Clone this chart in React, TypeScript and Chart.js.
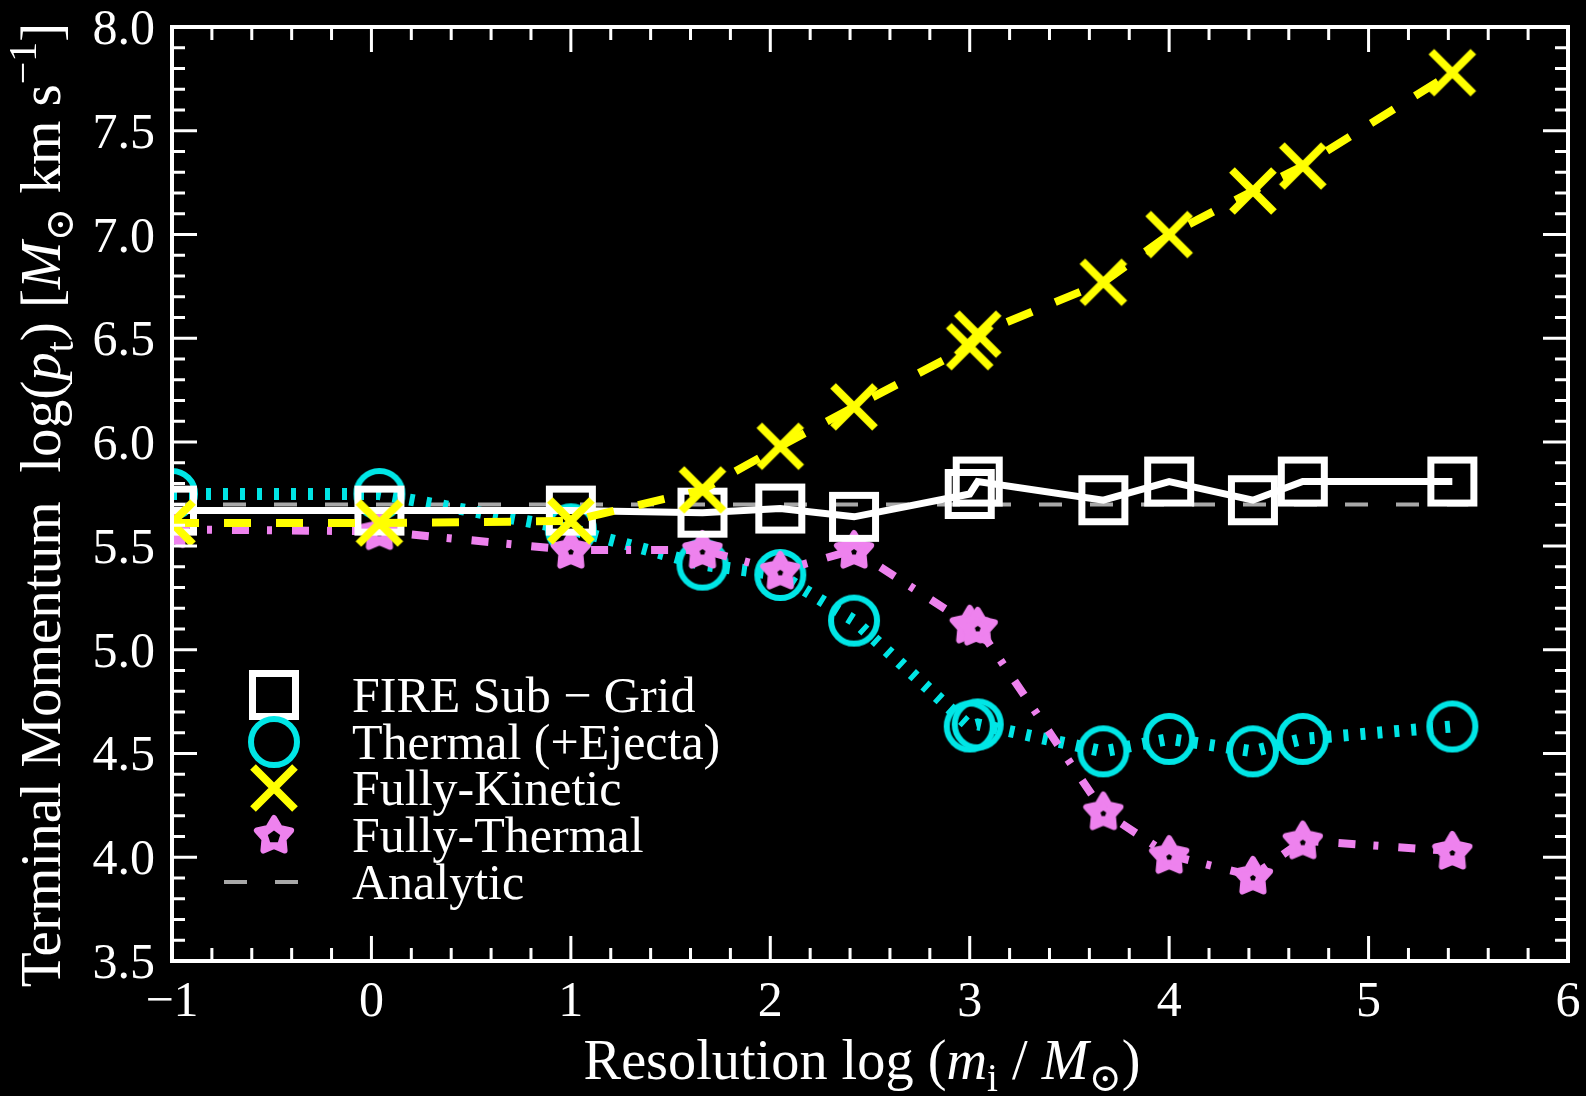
import React, { useEffect, useRef } from 'react';
import { Chart, registerables } from 'chart.js';

Chart.register(...registerables);

// ---------------- data ----------------
const resolutionLog = [-1, 0.04, 1, 1.66, 2.05, 2.42, 3.0, 3.04, 3.67, 4.0, 4.42, 4.67, 5.42];
const fireSubGrid = [5.67, 5.67, 5.67, 5.66, 5.68, 5.64, 5.75, 5.81, 5.72, 5.81, 5.72, 5.81, 5.81];
const thermalEjecta = [5.75, 5.75, 5.58, 5.41, 5.36, 5.14, 4.63, 4.64, 4.51, 4.57, 4.51, 4.57, 4.63];
const fullyKinetic = [5.61, 5.61, 5.62, 5.77, 5.98, 6.17, 6.46, 6.52, 6.77, 7.0, 7.21, 7.33, 7.78];
const fullyThermal = [5.58, 5.57, 5.48, 5.48, 5.38, 5.48, 5.12, 5.11, 4.22, 4.01, 3.91, 4.08, 4.03];
const analyticX = [-1, 5.5];
const analyticY = [5.7, 5.7];

const xTickValues = [-1, 0, 1, 2, 3, 4, 5, 6];
const yTickValues = [3.5, 4.0, 4.5, 5.0, 5.5, 6.0, 6.5, 7.0, 7.5, 8.0];
const xTickLabels = ['\u22121', '0', '1', '2', '3', '4', '5', '6'];
const yTickLabels = ['3.5', '4.0', '4.5', '5.0', '5.5', '6.0', '6.5', '7.0', '7.5', '8.0'];
const xMinorStep = 0.2;
const yMinorStep = 0.1;

const legendLabels = ['FIRE Sub \u2212 Grid', 'Thermal (+Ejecta)', 'Fully-Kinetic', 'Fully-Thermal', 'Analytic'];

// ---------------- styles ----------------
const FONT = '"Liberation Serif", "DejaVu Serif", "Times New Roman", serif';
const WHITE = '#ffffff';
const CYAN = '#00e6e6';
const YELLOW = '#ffff00';
const VIOLET = '#ee82ee';
const GREY = '#a8a8a8';

type Seg = { t: string; italic?: boolean; scale?: number; dy?: number };

function segFont(base: number, s: Seg) {
  return `${s.italic ? 'italic ' : ''}${(base * (s.scale ?? 1)).toFixed(1)}px ${FONT}`;
}
function measureRich(ctx: CanvasRenderingContext2D, segs: Seg[], base: number) {
  let w = 0;
  for (const s of segs) {
    ctx.font = segFont(base, s);
    w += ctx.measureText(s.t).width;
  }
  return w;
}
function drawRich(ctx: CanvasRenderingContext2D, segs: Seg[], base: number, x: number, y: number) {
  let cx = x;
  ctx.textBaseline = 'alphabetic';
  ctx.textAlign = 'left';
  for (const s of segs) {
    ctx.font = segFont(base, s);
    ctx.fillText(s.t, cx, y + (s.dy ?? 0) * base);
    cx += ctx.measureText(s.t).width;
  }
}
function fitSize(ctx: CanvasRenderingContext2D, segs: Seg[], target: number) {
  const w = measureRich(ctx, segs, 50);
  return (50 * target) / w;
}

const yTitle: Seg[] = [
  { t: 'Terminal Momentum  log' },
  { t: '(' },
  { t: 'p', italic: true },
  { t: 't', scale: 0.7, dy: 0.22 },
  { t: ') [' },
  { t: 'M', italic: true },
  { t: '\u2299', scale: 0.7, dy: 0.22 },
  { t: ' km s' },
  { t: '\u22121', scale: 0.7, dy: -0.42 },
  { t: ']' },
];
const xTitle: Seg[] = [
  { t: 'Resolution log ' },
  { t: '(' },
  { t: 'm', italic: true },
  { t: 'i', scale: 0.7, dy: 0.22 },
  { t: ' / ' },
  { t: 'M', italic: true },
  { t: '\u2299', scale: 0.7, dy: 0.22 },
  { t: ')' },
];

function makeCanvas(size: number, draw: (ctx: CanvasRenderingContext2D, c: number) => void) {
  const cv = document.createElement('canvas');
  cv.width = size;
  cv.height = size;
  const ctx = cv.getContext('2d')!;
  draw(ctx, size / 2);
  return cv;
}

function makeMarkers(starHole: number) {
  const square = makeCanvas(56, (ctx, c) => {
    ctx.strokeStyle = WHITE;
    ctx.lineWidth = 7;
    ctx.strokeRect(c - 21.5, c - 21.5, 43, 43);
  });
  const circle = makeCanvas(60, (ctx, c) => {
    ctx.strokeStyle = CYAN;
    ctx.lineWidth = 6;
    ctx.beginPath();
    ctx.arc(c, c, 23, 0, Math.PI * 2);
    ctx.stroke();
  });
  const cross = makeCanvas(60, (ctx, c) => {
    ctx.strokeStyle = YELLOW;
    ctx.lineWidth = 8;
    ctx.beginPath();
    ctx.moveTo(c - 21, c - 21);
    ctx.lineTo(c + 21, c + 21);
    ctx.moveTo(c + 21, c - 21);
    ctx.lineTo(c - 21, c + 21);
    ctx.stroke();
  });
  const star = makeCanvas(56, (ctx, c) => {
    ctx.fillStyle = VIOLET;
    ctx.strokeStyle = VIOLET;
    ctx.lineWidth = 6;
    ctx.lineJoin = 'round';
    ctx.beginPath();
    for (let i = 0; i < 10; i++) {
      const a = -Math.PI / 2 + (i * Math.PI) / 5;
      const r = i % 2 === 0 ? 18 : 10;
      const px = c + r * Math.cos(a);
      const py = c + 1 + r * Math.sin(a);
      if (i === 0) ctx.moveTo(px, py);
      else ctx.lineTo(px, py);
    }
    ctx.closePath();
    ctx.fill();
    ctx.stroke();
    ctx.fillStyle = '#000';
    ctx.beginPath();
    for (let i = 0; i < 5; i++) {
      const a = -Math.PI / 2 + (i * 2 * Math.PI) / 5;
      const px = c + starHole * Math.cos(a);
      const py = c + 2 + starHole * Math.sin(a);
      if (i === 0) ctx.moveTo(px, py);
      else ctx.lineTo(px, py);
    }
    ctx.closePath();
    ctx.fill();
  });
  return { square, circle, cross, star };
}

function range(min: number, max: number, step: number) {
  const out: number[] = [];
  const n = Math.round((max - min) / step);
  for (let i = 0; i <= n; i++) out.push(+(min + i * step).toFixed(6));
  return out;
}

export default function App() {
  const ref = useRef<HTMLCanvasElement | null>(null);

  useEffect(() => {
    const canvas = ref.current;
    if (!canvas) return;
    const m = makeMarkers(3);
    const lm = makeMarkers(6.5);

    const toPts = (ys: number[]) => resolutionLog.map((x, i) => ({ x, y: ys[i] }));

    const framePlugin = {
      id: 'frame',
      beforeDraw(chart: any) {
        const ctx = chart.ctx as CanvasRenderingContext2D;
        ctx.save();
        ctx.fillStyle = '#000';
        ctx.fillRect(0, 0, chart.width, chart.height);
        ctx.restore();
      },
      afterDraw(chart: any) {
        const ctx = chart.ctx as CanvasRenderingContext2D;
        const { left, right, top, bottom } = chart.chartArea;
        const xs = chart.scales.x;
        const ys = chart.scales.y;
        ctx.save();
        ctx.strokeStyle = WHITE;
        // ticks
        ctx.lineWidth = 3;
        const xMin = range(xTickValues[0], xTickValues[xTickValues.length - 1], xMinorStep);
        for (const v of xMin) {
          const major = xTickValues.some((t) => Math.abs(t - v) < 1e-6);
          const len = major ? 25 : 13;
          const px = xs.getPixelForValue(v);
          ctx.beginPath();
          ctx.moveTo(px, bottom);
          ctx.lineTo(px, bottom - len);
          ctx.moveTo(px, top);
          ctx.lineTo(px, top + len);
          ctx.stroke();
        }
        const yMin = range(yTickValues[0], yTickValues[yTickValues.length - 1], yMinorStep);
        for (const v of yMin) {
          const major = yTickValues.some((t) => Math.abs(t - v) < 1e-6);
          const len = major ? 25 : 13;
          const py = ys.getPixelForValue(v);
          ctx.beginPath();
          ctx.moveTo(left, py);
          ctx.lineTo(left + len, py);
          ctx.moveTo(right, py);
          ctx.lineTo(right - len, py);
          ctx.stroke();
        }
        // frame
        ctx.lineWidth = 4;
        ctx.strokeRect(left, top, right - left, bottom - top);

        // tick labels
        ctx.fillStyle = WHITE;
        ctx.font = `50px ${FONT}`;
        ctx.textBaseline = 'alphabetic';
        ctx.textAlign = 'center';
        xTickValues.forEach((v, i) => {
          ctx.fillText(xTickLabels[i], xs.getPixelForValue(v), 1016);
        });
        ctx.textAlign = 'right';
        yTickValues.forEach((v, i) => {
          ctx.fillText(yTickLabels[i], left - 17, ys.getPixelForValue(v) + 17);
        });

        // legend
        const rows = [695, 742, 788, 835, 882];
        const mx = 274;
        const imgs = [lm.square, lm.circle, lm.cross, lm.star];
        imgs.forEach((img, i) => {
          ctx.drawImage(img, mx - img.width / 2, rows[i] - img.height / 2);
        });
        ctx.strokeStyle = GREY;
        ctx.lineWidth = 4;
        ctx.beginPath();
        ctx.moveTo(224, rows[4]);
        ctx.lineTo(247, rows[4]);
        ctx.moveTo(275, rows[4]);
        ctx.lineTo(298, rows[4]);
        ctx.stroke();
        ctx.fillStyle = WHITE;
        ctx.font = `50px ${FONT}`;
        ctx.textAlign = 'left';
        ctx.textBaseline = 'alphabetic';
        legendLabels.forEach((lab, i) => {
          ctx.fillText(lab, 352, rows[i] + 17);
        });

        // axis titles
        const xs2 = fitSize(ctx, xTitle, 557);
        const xw = measureRich(ctx, xTitle, xs2);
        drawRich(ctx, xTitle, xs2, 862 - xw / 2, 1079);

        const ys2 = fitSize(ctx, yTitle, 964);
        const yw = measureRich(ctx, yTitle, ys2);
        ctx.translate(60, 505);
        ctx.rotate(-Math.PI / 2);
        drawRich(ctx, yTitle, ys2, -yw / 2, 0);
        ctx.restore();
      },
    };

    const chart = new Chart(canvas, {
      type: 'line',
      data: {
        datasets: [
          {
            label: legendLabels[2],
            data: toPts(fullyKinetic),
            borderColor: YELLOW,
            borderWidth: 8,
            borderDash: [27, 25],
            pointStyle: m.cross,
            pointRadius: 22,
            order: 0,
          },
          {
            label: legendLabels[0],
            data: toPts(fireSubGrid),
            borderColor: WHITE,
            borderWidth: 7,
            pointStyle: m.square,
            pointRadius: 22,
            order: 1,
          },
          {
            label: legendLabels[3],
            data: toPts(fullyThermal),
            borderColor: VIOLET,
            borderWidth: 8,
            borderDash: [17, 18, 5, 20],
            pointStyle: m.star,
            pointRadius: 22,
            order: 2,
          },
          {
            label: legendLabels[1],
            data: toPts(thermalEjecta),
            borderColor: CYAN,
            borderWidth: 12,
            borderDash: [5, 12],
            pointStyle: m.circle,
            pointRadius: 22,
            order: 3,
          },
          {
            label: legendLabels[4],
            data: analyticX.map((x, i) => ({ x, y: analyticY[i] })),
            borderColor: GREY,
            borderWidth: 4,
            borderDash: [23, 28],
            pointRadius: 0,
            order: 4,
          },
        ] as any,
      },
      options: {
        animation: false,
        responsive: false,
        devicePixelRatio: 1,
        layout: { autoPadding: false, padding: { top: 27, right: 18, left: 0, bottom: 0 } },
        plugins: {
          legend: { display: false },
          tooltip: { enabled: false },
          title: { display: false },
        },
        elements: { line: { tension: 0 } },
        scales: {
          x: {
            type: 'linear',
            min: -1,
            max: 6,
            afterFit: (s: any) => {
              s.height = 135;
            },
            ticks: { display: false },
            grid: { display: false, drawTicks: false },
            border: { display: false },
          },
          y: {
            type: 'linear',
            min: 3.5,
            max: 8,
            afterFit: (s: any) => {
              s.width = 172;
            },
            ticks: { display: false },
            grid: { display: false, drawTicks: false },
            border: { display: false },
          },
        },
      } as any,
      plugins: [framePlugin as any],
    });

    return () => chart.destroy();
  }, []);

  return (
    <div style={{ position: 'fixed', left: 0, top: 0, width: 1586, height: 1096, background: '#000' }}>
      <canvas ref={ref} width={1586} height={1096} style={{ display: 'block', width: 1586, height: 1096 }} />
    </div>
  );
}
